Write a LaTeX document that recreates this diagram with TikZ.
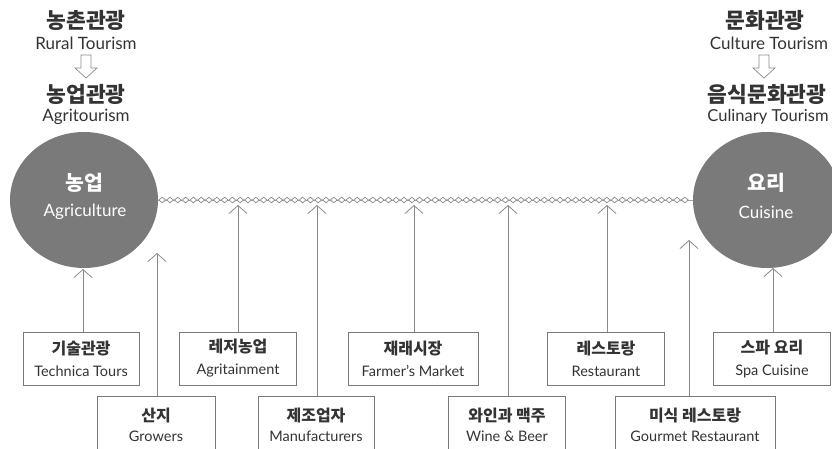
\documentclass[tikz,border=0pt]{standalone}
\usepackage{fontspec}
\setmainfont{Lato}
\newfontfamily\kr{Noto Sans CJK KR}
\usetikzlibrary{arrows.meta,shapes.geometric,decorations.markings}
\definecolor{txt}{HTML}{333333}
\definecolor{circ}{HTML}{7A7A7A}
\definecolor{ln}{HTML}{8A8A8A}
\definecolor{bx}{HTML}{7A7A7A}
\newcommand{\krb}[1]{{\kr\bfseries\fontsize{16}{22}\selectfont #1}}
\begin{document}
\begin{tikzpicture}[x=1pt,y=-1pt,
  krtitle/.style={font=\kr\bfseries\fontsize{21.5}{23}\selectfont, text=txt, inner sep=0pt},
  entitle/.style={font=\fontsize{17}{18}\selectfont, text=txt, inner sep=0pt},
  bigcirc/.style={ellipse, fill=circ, minimum width=148pt, minimum height=136pt, inner sep=0pt, text=white},
  circtext/.style={text=white, inner sep=0pt},
  boxa/.style={rectangle, draw=bx, line width=0.8pt, minimum height=53pt, inner sep=0pt, align=center, text=txt,
     font=\fontsize{14.5}{22}\selectfont},
  boxb/.style={rectangle, draw=bx, line width=0.8pt, minimum height=58pt, inner sep=0pt, align=center, text=txt,
     font=\fontsize{14.5}{20}\selectfont},
  arr/.style={draw=ln, line width=0.8pt, -{Straight Barb[length=8pt,width=18pt,line width=0.8pt]}},
  hollow/.style={draw=ln, line width=0.7pt, fill=white, line join=miter},
  chainline/.style={draw=ln!80, line width=0.5pt,
     postaction={decorate, decoration={markings,
       mark=between positions 4pt and -3pt step 7.8pt with {
         \draw[ln, line width=0.7pt, fill=white] (-3.4pt,0pt) -- (0pt,2.8pt) -- (3.4pt,0pt) -- (0pt,-2.8pt) -- cycle;}}}}
]
\useasboundingbox (0,0) rectangle (832,448);
\clip (0,0) rectangle (832,448);

% titles left
\node[krtitle] (rk) at (86,20) {농촌관광};
\node[entitle] (re) at (86,43) {Rural Tourism};
\coordinate (ha) at (86,55);
\draw[hollow] (ha) ++(-5,0) -- ++(0,13) -- ++(-6,0) -- ++(11,10) -- ++(11,-10) -- ++(-6,0) -- ++(0,-13) -- cycle;
\node[krtitle] (ak) at (86,94) {농업관광};
\node[entitle] (ae) at (86,117) {Agritourism};

% titles right
\node[krtitle] (ck) at (765,20) {문화관광};
\node[entitle] (ce) at (769,43) {Culture Tourism};
\coordinate (hb) at (764,55);
\draw[hollow] (hb) ++(-5,0) -- ++(0,13) -- ++(-6,0) -- ++(11,10) -- ++(11,-10) -- ++(-6,0) -- ++(0,-13) -- cycle;
\node[krtitle] (uk) at (767,94) {음식문화관광};
\node[entitle, font=\fontsize{16.5}{18}\selectfont] (ue) at (768,117) {Culinary Tourism};

% circles
\node[bigcirc] (L) at (84,200) {};
\node[bigcirc] (R) at (767,200) {};
\node[circtext, font=\kr\bfseries\fontsize{20.5}{22}\selectfont] (Lk) at (84,183) {농업};
\node[circtext, font=\fontsize{17}{18}\selectfont] (Le) at (85,212) {Agriculture};
\node[circtext, font=\kr\bfseries\fontsize{20.5}{22}\selectfont] (Rk) at (766,183) {요리};
\node[circtext, font=\fontsize{17}{18}\selectfont] (Re) at (766,212) {Cuisine};

% chain
\path[chainline] (L.east) -- (R.west);

% row 1 boxes
\node[boxa, minimum width=116pt] (b1) at (81,358.5) {\krb{기술관광}\\Technica Tours};
\node[boxa, minimum width=117pt] (b2) at (238,358.5) {\krb{레저농업}\\Agritainment};
\node[boxa, minimum width=130pt] (b3) at (413,358.5) {\krb{재래시장}\\Farmer's Market};
\node[boxa, minimum width=117pt] (b4) at (606,358.5) {\krb{레스토랑}\\Restaurant};
\node[boxa, minimum width=117pt] (b5) at (772,358.5) {\krb{스파 요리}\\Spa Cuisine};

% row 2 boxes
\node[boxb, minimum width=118pt] (c1) at (156,425) {\krb{산지}\\Growers};
\node[boxb, minimum width=116pt] (c2) at (316,425) {\krb{제조업자}\\Manufacturers};
\node[boxb, minimum width=117pt] (c3) at (507,425) {\krb{와인과 맥주}\\Wine \& Beer};
\node[boxb, minimum width=160pt] (c4) at (695,425) {\krb{미식 레스토랑}\\Gourmet Restaurant};

% arrow tips
\coordinate (t1) at (83,269);
\coordinate (t2) at (157,253);
\coordinate (t3) at (238,205);
\coordinate (t4) at (317,205);
\coordinate (t5) at (414,205);
\coordinate (t6) at (508,205);
\coordinate (t7) at (607,205);
\coordinate (t8) at (689,240);
\coordinate (t9) at (773,268);

\draw[arr] (b1.north -| t1) -- (t1);
\draw[arr] (c1.north -| t2) -- (t2);
\draw[arr] (b2.north -| t3) -- (t3);
\draw[arr] (c2.north -| t4) -- (t4);
\draw[arr] (b3.north -| t5) -- (t5);
\draw[arr] (c3.north -| t6) -- (t6);
\draw[arr] (b4.north -| t7) -- (t7);
\draw[arr] (c4.north -| t8) -- (t8);
\draw[arr] (b5.north -| t9) -- (t9);
\end{tikzpicture}
\end{document}
